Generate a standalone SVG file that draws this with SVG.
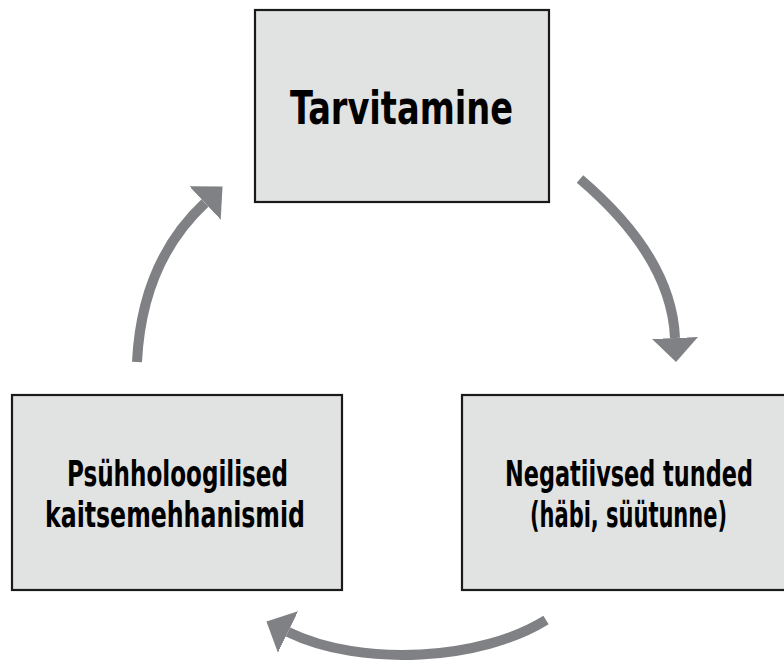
<svg xmlns="http://www.w3.org/2000/svg" width="784" height="663" viewBox="0 0 784 663">
  <style>
    .box { fill: #e1e2e2; stroke: #1a1a1a; stroke-width: 2.2; }
    .lbl { font-family: "Liberation Sans Narrow", "DejaVu Sans Condensed", "Liberation Sans", sans-serif; font-weight: bold; font-stretch: condensed; fill: #000; text-anchor: middle; }
    .conn { fill: none; stroke: #808184; stroke-width: 10; stroke-linecap: butt; }
  </style>
  <defs>
    <marker id="head" markerUnits="userSpaceOnUse" viewBox="0 -24 25 48" refX="0" refY="0" markerWidth="25" markerHeight="48" orient="auto">
      <path d="M0,-23 L24,0 L0,23 Z" fill="#808184"/>
    </marker>
  </defs>
  <rect width="784" height="663" fill="#ffffff"/>

  <g id="connectors">
    <path class="conn" d="M580,179 C620,213 672,268 675,338" marker-end="url(#head)"/>
    <path class="conn" d="M546,620 C482,660 362,668 288,632" marker-end="url(#head)"/>
    <path class="conn" d="M137,362 C140,300 160,245 205,203" marker-end="url(#head)"/>
  </g>

  <g id="node-tarvitamine">
    <rect class="box" x="255" y="10" width="294" height="192"/>
    <text class="lbl" x="401.5" y="124" font-size="47" textLength="223" lengthAdjust="spacingAndGlyphs">Tarvitamine</text>
  </g>

  <g id="node-kaitsemehhanismid">
    <rect class="box" x="12" y="395" width="330" height="195"/>
    <text class="lbl" x="177.5" y="486" font-size="35" textLength="221" lengthAdjust="spacingAndGlyphs">Psühholoogilised</text>
    <text class="lbl" x="175" y="527" font-size="35" textLength="260" lengthAdjust="spacingAndGlyphs">kaitsemehhanismid</text>
  </g>

  <g id="node-negatiivsed">
    <rect class="box" x="462" y="395" width="324" height="195"/>
    <text class="lbl" x="629" y="486" font-size="35" textLength="248" lengthAdjust="spacingAndGlyphs">Negatiivsed tunded</text>
    <text class="lbl" x="628.5" y="527" font-size="35" textLength="197" lengthAdjust="spacingAndGlyphs">(häbi, süütunne)</text>
  </g>
</svg>
